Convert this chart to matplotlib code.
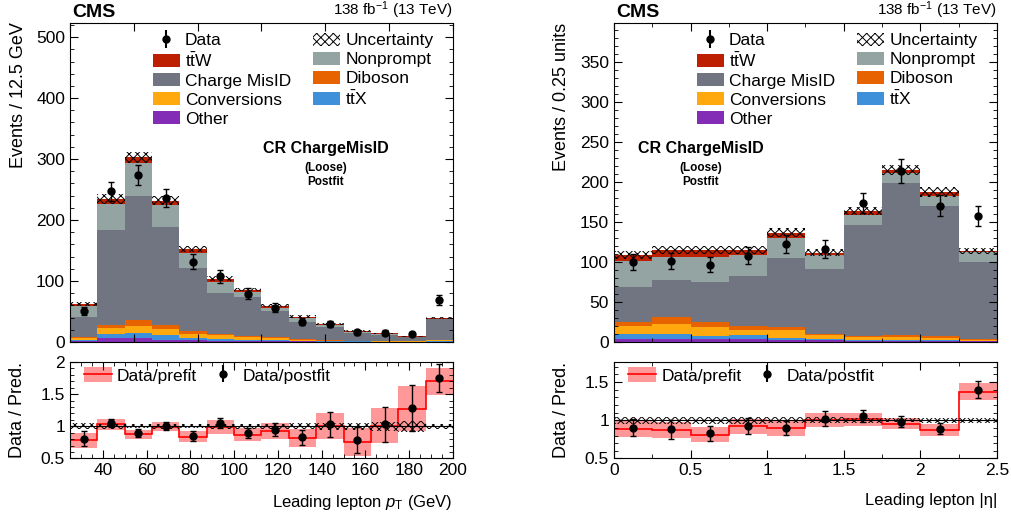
import numpy as np
import matplotlib
matplotlib.use("Agg")
import matplotlib.pyplot as plt
from matplotlib.patches import Patch
from matplotlib.lines import Line2D
from matplotlib.ticker import MultipleLocator, FixedLocator, NullLocator, NullFormatter

plt.rcParams["font.family"] = ["Liberation Sans", "DejaVu Sans"]
plt.rcParams["mathtext.fontset"] = "custom"
plt.rcParams["mathtext.rm"] = "Liberation Sans"
plt.rcParams["mathtext.it"] = "Liberation Sans:italic"
plt.rcParams["mathtext.bf"] = "Liberation Sans:bold"
plt.rcParams["hatch.linewidth"] = 0.7

# ---------------- left: leading lepton pT ----------------
pt_edges = [25, 37.5, 50, 62.5, 75, 87.5, 100, 112.5, 125, 137.5, 150, 162.5, 175, 187.5, 200]
pt_other = [1, 6, 6, 4, 3, 2, 1.5, 1, 0.8, 0.5, 0.3, 0.3, 0.2, 0.5]
pt_ttx = [2, 7.5, 8, 7.5, 4, 3.5, 2, 1.5, 1, 0.7, 0.5, 0.4, 0.3, 0.5]
pt_conv = [4, 10, 12, 10.5, 6.6, 5.5, 4, 3.5, 1.5, 1, 0.8, 0.6, 0.5, 2]
pt_dib = [1, 4.5, 9.5, 6, 4.4, 2.6, 2, 1.5, 1, 0.8, 0.5, 0.4, 0.3, 0.5]
pt_cmid = [33.5, 155, 203.5, 161, 104, 67.4, 63.5, 42.5, 28.7, 21, 12.9, 10.3, 7.2, 34.5]
pt_nonp = [17.5, 43, 54, 35, 24, 17, 9, 6, 6.5, 3.5, 2, 1.5, 0.3, 0.5]
pt_ttw = [3, 9, 10, 8, 6, 6, 4, 3.5, 2, 1.5, 1, 0.5, 0.2, 0.5]
pt_unc = [3, 8, 9, 8, 5, 4, 3, 2.5, 2, 1.5, 1, 1, 0.8, 1.5]
pt_data = [51, 247, 274, 236, 132, 108, 79, 56, 33.5, 29.5, 16, 15, 13, 69]
pt_data_err = [7, 16, 17, 15, 11.5, 10.5, 9, 7.5, 6, 5.5, 4, 4, 3.6, 8.3]
pt_post = [0.81, 1.05, 0.895, 1.01, 0.85, 1.05, 0.895, 0.95, 0.83, 1.03, 0.785, 1.03, 1.29, 1.75]
pt_post_err = [0.12, 0.06, 0.06, 0.06, 0.08, 0.08, 0.08, 0.1, 0.12, 0.2, 0.2, 0.27, 0.36, 0.22]
pt_pre = [0.78, 1.03, 0.88, 0.995, 0.84, 0.99, 0.87, 0.93, 0.82, 1.01, 0.76, 1.01, 1.27, 1.7]
pt_pre_unc = [0.12, 0.09, 0.07, 0.07, 0.09, 0.11, 0.1, 0.12, 0.14, 0.2, 0.22, 0.27, 0.35, 0.21]

# ---------------- right: leading lepton |eta| ----------------
eta_edges = [0, 0.25, 0.5, 0.75, 1.0, 1.25, 1.5, 1.75, 2.0, 2.25, 2.5]
eta_other = [3.5, 3.5, 3.5, 3.5, 2.5, 2, 1.5, 1.5, 1.5, 1]
eta_ttx = [7, 7, 4.5, 5, 3, 2, 1.5, 1, 1, 0.5]
eta_conv = [9, 12.5, 10.5, 6.5, 9, 5, 3, 4, 3, 1.5]
eta_dib = [6, 8.5, 6.5, 5.5, 4.5, 1, 2, 2, 1.5, 0.5]
eta_cmid = [43, 45.5, 50.6, 62.1, 86.6, 82, 138, 190, 163.6, 97.1]
eta_nonp = [33.5, 30, 31.4, 26.4, 24.4, 17, 13, 12.5, 12.1, 12.4]
eta_ttw = [7, 8, 8, 6, 7, 3, 5, 4, 5.3, 1]
eta_unc = [5, 5, 5, 5, 5.5, 4, 5, 6, 6, 4]
eta_data = [100, 102, 97, 108, 122.6, 116.5, 174, 214, 170.6, 158]
eta_data_err = [10, 10, 10, 10.5, 11, 11, 13, 14.5, 13, 12.5]
eta_post = [0.90, 0.88, 0.83, 0.925, 0.9, 1.02, 1.05, 0.98, 0.89, 1.40]
eta_post_err = [0.11, 0.12, 0.1, 0.1, 0.09, 0.1, 0.08, 0.07, 0.07, 0.11]
eta_pre = [0.89, 0.87, 0.81, 0.92, 0.9, 1.0, 1.01, 0.955, 0.87, 1.37]
eta_pre_unc = [0.105, 0.1, 0.1, 0.1, 0.1, 0.09, 0.09, 0.075, 0.08, 0.11]

names = ["Other", "ttX", "Conversions", "Diboson", "Charge MisID", "Nonprompt", "ttW"]
colors = {"Other": "#832db6", "ttX": "#3f90da", "Conversions": "#ffa90e",
          "Diboson": "#e76300", "Charge MisID": "#717581", "Nonprompt": "#94a4a2",
          "ttW": "#bd1f01"}
labels = {"ttW": r"$\mathrm{t\bar{t}W}$", "ttX": r"$\mathrm{t\bar{t}X}$"}

FS = 12.5


def style(ax):
    ax.tick_params(which="both", direction="in", top=True, right=True, labelsize=FS)
    ax.tick_params(which="major", length=6)
    ax.tick_params(which="minor", length=3)


def draw(ax, rax, edges, comps, unc, data, data_err, post, post_err, pre, pre_unc):
    edges = np.array(edges)
    centers = 0.5 * (edges[1:] + edges[:-1])
    bottom = np.zeros(len(centers))
    for n in names:
        top = bottom + np.array(comps[n])
        ax.stairs(top, edges, baseline=bottom, fill=True, color=colors[n], lw=0)
        bottom = top
    tot = bottom
    unc = np.array(unc)
    ax.stairs(tot + unc, edges, baseline=tot - unc, fill=True, facecolor="none",
              edgecolor="black", hatch="xxxx", lw=0)
    ax.errorbar(centers, data, yerr=data_err, fmt="o", color="black", ms=5,
                capsize=2, elinewidth=1)

    # ratio panel
    pre = np.array(pre)
    pre_unc = np.array(pre_unc)
    rax.stairs(pre + pre_unc, edges, baseline=pre - pre_unc, fill=True,
               color="#ff0000", alpha=0.4, lw=0)
    rax.stairs(pre, edges, color="#ff0000", lw=1.2, baseline=None)
    rel = unc / tot
    rax.stairs(1 + rel, edges, baseline=1 - rel, fill=True, facecolor="none",
               edgecolor="black", hatch="xxxx", lw=0)
    rax.axhline(1, color="black", lw=0.8)
    rax.errorbar(centers, post, yerr=post_err, fmt="o", color="black", ms=5,
                 capsize=2, elinewidth=1)
    rax.set_xlim(edges[0], edges[-1])
    ax.set_xlim(edges[0], edges[-1])


fig = plt.figure(figsize=(10.11, 5.21), dpi=100)
axL = fig.add_axes([0.0692, 0.3436, 0.3788, 0.6132])
rL = fig.add_axes([0.0692, 0.1200, 0.3788, 0.1852])
axR = fig.add_axes([0.6073, 0.3436, 0.3788, 0.6132])
rR = fig.add_axes([0.6073, 0.1200, 0.3788, 0.1852])

draw(axL, rL, pt_edges,
     {"Other": pt_other, "ttX": pt_ttx, "Conversions": pt_conv, "Diboson": pt_dib,
      "Charge MisID": pt_cmid, "Nonprompt": pt_nonp, "ttW": pt_ttw},
     pt_unc, pt_data, pt_data_err, pt_post, pt_post_err, pt_pre, pt_pre_unc)
draw(axR, rR, eta_edges,
     {"Other": eta_other, "ttX": eta_ttx, "Conversions": eta_conv, "Diboson": eta_dib,
      "Charge MisID": eta_cmid, "Nonprompt": eta_nonp, "ttW": eta_ttw},
     eta_unc, eta_data, eta_data_err, eta_post, eta_post_err, eta_pre, eta_pre_unc)

for ax in (axL, rL, axR, rR):
    style(ax)

# left axes
axL.set_ylim(0, 524)
axL.yaxis.set_major_locator(MultipleLocator(100))
axL.yaxis.set_minor_locator(MultipleLocator(20))
axL.xaxis.set_major_locator(FixedLocator(np.linspace(25, 200, 7)))
axL.xaxis.set_minor_locator(NullLocator())
axL.xaxis.set_major_formatter(NullFormatter())
rL.set_ylim(0.5, 2)
rL.yaxis.set_major_locator(FixedLocator([0.5, 1, 1.5, 2]))
rL.yaxis.set_minor_locator(MultipleLocator(0.1))
rL.set_yticklabels(["0.5", "1", "1.5", "2"])
rL.xaxis.set_major_locator(MultipleLocator(20))
rL.xaxis.set_minor_locator(MultipleLocator(5))

# right axes
axR.set_ylim(0, 400)
axR.yaxis.set_major_locator(MultipleLocator(50))
axR.yaxis.set_minor_locator(MultipleLocator(10))
axR.xaxis.set_major_locator(MultipleLocator(0.5))
axR.xaxis.set_minor_locator(MultipleLocator(0.25))
axR.xaxis.set_major_formatter(NullFormatter())
axR.set_yticks([0, 50, 100, 150, 200, 250, 300, 350])
rR.set_ylim(0.5, 1.76)
rR.yaxis.set_major_locator(FixedLocator([0.5, 1, 1.5]))
rR.yaxis.set_minor_locator(MultipleLocator(0.1))
rR.set_yticklabels(["0.5", "1", "1.5"])
rR.xaxis.set_major_locator(FixedLocator([0, 0.5, 1, 1.5, 2, 2.5]))
rR.xaxis.set_minor_locator(MultipleLocator(0.25))
rR.set_xticklabels(["0", "0.5", "1", "1.5", "2", "2.5"])

# labels
axL.set_ylabel("Events / 12.5 GeV", fontsize=13, loc="top")
axL.yaxis.set_label_coords(-0.112, 1.0)
rL.set_ylabel("Data / Pred.", fontsize=13)
rL.yaxis.set_label_coords(-0.115, 0.5)
rL.set_xlabel(r"Leading lepton $p_{\mathrm{T}}$ (GeV)", fontsize=12, loc="right")
rL.xaxis.set_label_coords(1.0, -0.36)
axR.set_ylabel("Events / 0.25 units", fontsize=13, loc="top")
axR.yaxis.set_label_coords(-0.115, 1.0)
rR.set_ylabel("Data / Pred.", fontsize=13)
rR.yaxis.set_label_coords(-0.115, 0.5)
rR.set_xlabel("Leading lepton |η|", fontsize=12, loc="right")
rR.xaxis.set_label_coords(1.0, -0.36)

for ax, cx in ((axL, 0.668), (axR, 0.227)):
    ax.text(0.005, 1.006, "CMS", transform=ax.transAxes, fontsize=14,
            fontweight="bold", ha="left", va="bottom")
    ax.text(1.0, 1.006, r"138 fb$^{-1}$ (13 TeV)", transform=ax.transAxes,
            fontsize=11, ha="right", va="bottom")
    ax.text(cx, 0.607, "CR ChargeMisID", transform=ax.transAxes, fontsize=11.5,
            fontweight="bold", ha="center", va="center")
    ax.text(cx, 0.545, "(Loose)", transform=ax.transAxes, fontsize=8.5,
            fontweight="bold", ha="center", va="center")
    ax.text(cx, 0.50, "Postfit", transform=ax.transAxes, fontsize=8.5,
            fontweight="bold", ha="center", va="center")

    # main legend
    data_h = ax.errorbar([], [], yerr=[], fmt="o", color="black", ms=5, capsize=2)
    h = [data_h]
    lab = ["Data"]
    for n in ["ttW", "Charge MisID", "Conversions", "Other"]:
        h.append(Patch(color=colors[n], lw=0))
        lab.append(labels.get(n, n))
    h.append(Patch(facecolor="white", edgecolor="black", hatch="xxxx", lw=0))
    lab.append("Uncertainty")
    for n in ["Nonprompt", "Diboson", "ttX"]:
        h.append(Patch(color=colors[n], lw=0))
        lab.append(labels.get(n, n))
    ax.legend(h, lab, loc="upper left", bbox_to_anchor=(0.2167, 0.968), ncol=2,
              frameon=False, fontsize=FS, borderpad=0, borderaxespad=0,
              handlelength=1.55, handleheight=0.79, handletextpad=0.3,
              labelspacing=0.19, columnspacing=1.25)

for rax in (rL, rR):
    pre_h = (Patch(color="#ff0000", alpha=0.4, lw=0), Line2D([], [], color="#ff0000", lw=1.2))
    post_h = rax.errorbar([], [], yerr=[], fmt="o", color="black", ms=5, capsize=2)
    rax.legend([pre_h, post_h], ["Data/prefit", "Data/postfit"], loc="upper left",
               bbox_to_anchor=(0.037, 0.95), ncol=2, frameon=False, fontsize=FS,
               borderpad=0, borderaxespad=0, handlelength=1.6, handleheight=1.0,
               handletextpad=0.3, columnspacing=0.7)

fig.savefig("out.png", dpi=100)
